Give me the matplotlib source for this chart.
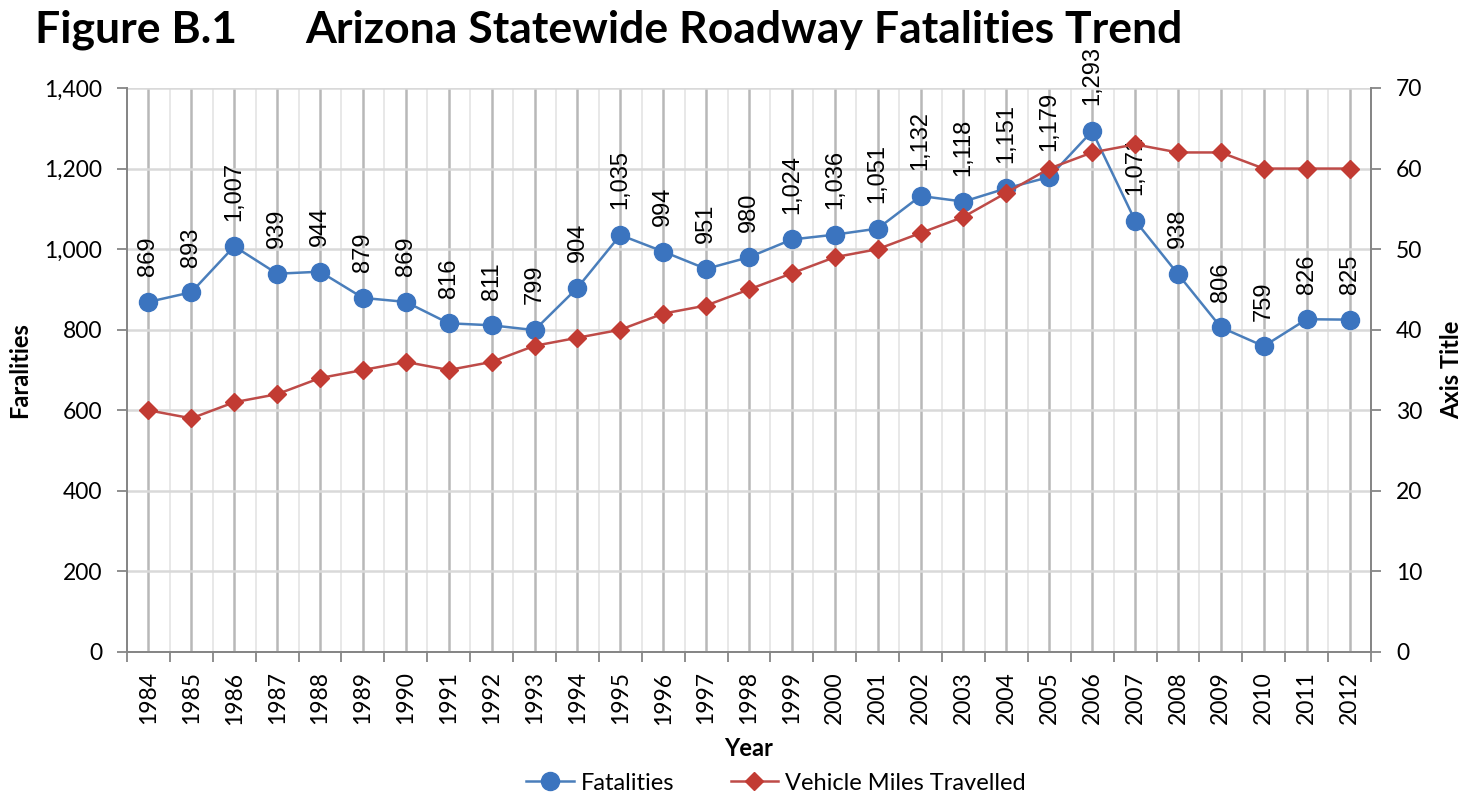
import matplotlib
matplotlib.use("Agg")
import matplotlib.pyplot as plt
from matplotlib.ticker import FuncFormatter, MultipleLocator, FixedLocator

years = list(range(1984, 2013))
fatalities = [869, 893, 1007, 939, 944, 879, 869, 816, 811, 799, 904, 1035, 994, 951,
              980, 1024, 1036, 1051, 1132, 1118, 1151, 1179, 1293, 1071, 938, 806, 759,
              826, 825]
vmt = [30, 29, 31, 32, 34, 35, 36, 35, 36, 38, 39, 40, 42, 43, 45, 47, 49, 50, 52, 54,
       57, 60, 62, 63, 62, 62, 60, 60, 60]

font = "Lato"
blue = "#4a7ebb"
blue_marker = "#3b74bf"
red = "#be4b48"
red_marker = "#c23b33"
spine_col = "#868686"
tick_size = 16.5

fig = plt.figure(figsize=(14.66, 7.98), dpi=100)
ax = fig.add_axes([127 / 1466, 1 - 652 / 798, (1371 - 127) / 1466, (652 - 88) / 798])
ax2 = ax.twinx()

x = list(range(len(years)))
ax.plot(x, fatalities, color=blue, lw=1.8, marker="o", markersize=13,
        markerfacecolor=blue_marker, markeredgecolor=blue_marker, zorder=3)
ax2.plot(x, vmt, color=red, lw=1.8, marker="D", markersize=9.5,
         markerfacecolor=red_marker, markeredgecolor=red_marker, zorder=3)

for xi, v in zip(x, fatalities):
    ax.annotate(f"{v:,}", xy=(xi, v), xytext=(0, 18.5), textcoords="offset points",
                rotation=90, ha="center", va="bottom", fontsize=17,
                family="Liberation Sans", color="black", zorder=2, annotation_clip=False)

ax.set_xlim(-0.5, len(years) - 0.5)
ax.set_ylim(0, 1400)
ax2.set_ylim(0, 70)
ax.yaxis.set_major_locator(MultipleLocator(200))
ax2.yaxis.set_major_locator(MultipleLocator(10))
ax.yaxis.set_major_formatter(FuncFormatter(lambda v, p: f"{int(v):,}"))

ax.set_xticks(x)
ax.set_xticklabels([str(y) for y in years], rotation=90, fontsize=tick_size, family=font)
ax.xaxis.set_minor_locator(FixedLocator([i - 0.5 for i in range(len(years) + 1)]))
ax.tick_params(axis="x", which="major", length=0, pad=14)
ax.tick_params(axis="x", which="minor", length=7, color=spine_col, width=1.3, direction="out")
ax.tick_params(axis="y", length=7, color=spine_col, width=1.3, labelsize=tick_size, pad=11)
ax2.tick_params(axis="y", length=7, color=spine_col, width=1.3, labelsize=tick_size, pad=11)
for lab in ax.get_yticklabels() + ax2.get_yticklabels():
    lab.set_family(font)

ax.grid(axis="y", color="#d9d9d9", lw=1.8)
ax.grid(axis="x", which="major", color="#b8b8b8", lw=1.8)
ax.grid(axis="x", which="minor", color="#e8e8e8", lw=1.4)
ax.set_axisbelow(True)

for a in (ax, ax2):
    a.spines["top"].set_visible(False)
    for s in ("left", "right", "bottom"):
        a.spines[s].set_color(spine_col)
        a.spines[s].set_linewidth(1.3)

ax.set_xlabel("Year", fontsize=17, fontweight="bold", family=font)
ax.set_ylabel("Faralities", fontsize=17, fontweight="bold", family=font)
ax2.set_ylabel("Axis Title", fontsize=17, fontweight="bold", family=font)
ax.yaxis.set_label_coords(-107 / 1244, 0.5)
ax2.yaxis.set_label_coords(1 + 81 / 1244, 0.5)
ax.xaxis.set_label_coords(0.5, -(748 - 652) / 564)
ax.xaxis.label.set_va("center")
ax.yaxis.label.set_va("center")
ax2.yaxis.label.set_va("center")

fig.text(35 / 1466, 1 - 43 / 798, "Figure B.1", fontsize=32, fontweight="bold",
         family=font, va="baseline", ha="left")
fig.text(305 / 1466, 1 - 43 / 798, "Arizona Statewide Roadway Fatalities Trend",
         fontsize=32, fontweight="bold", family=font, va="baseline", ha="left")

h1, = ax.plot([], [], color=blue, lw=1.8, marker="o", markersize=13,
              markerfacecolor=blue_marker, markeredgecolor=blue_marker)
h2, = ax.plot([], [], color=red, lw=1.8, marker="D", markersize=9.5,
              markerfacecolor=red_marker, markeredgecolor=red_marker)
fig.legend([h1, h2], ["Fatalities", "Vehicle Miles Travelled"], loc="center",
           bbox_to_anchor=(776 / 1466, 1 - 783 / 798), ncol=2, frameon=False,
           prop={"family": font, "size": 17}, handlelength=2.0, columnspacing=2.4,
           handletextpad=0.3)

fig.savefig("out.png", dpi=100)
